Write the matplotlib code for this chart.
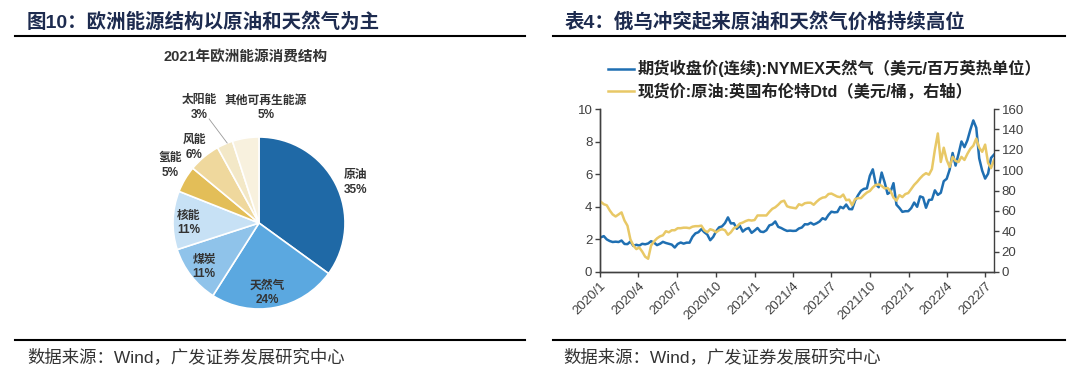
import matplotlib
matplotlib.use('Agg')
import matplotlib.pyplot as plt
import pandas as pd
from matplotlib.lines import Line2D

plt.rcParams['font.family'] = ['Liberation Sans', 'Noto Sans CJK SC', 'DejaVu Sans']

# ---------------- text ----------------
title_left = '图10：欧洲能源结构以原油和天然气为主'
title_right = '表4：俄乌冲突起来原油和天然气价格持续高位'
source_text = '数据来源：Wind，广发证券发展研究中心'
pie_title = '2021年欧洲能源消费结构'

# ---------------- pie data ----------------
pie_labels = ['原油', '天然气', '煤炭', '核能', '氢能', '风能', '太阳能', '其他可再生能源']
pie_values = [35, 24, 11, 11, 5, 6, 3, 5]
pie_colors = ['#1f69a6', '#5ba8e0', '#8fc3ea', '#c7e1f5', '#e3be58', '#efd89d', '#f3e8c7', '#f8f1de']

# ---------------- line data (weekly, Fridays from 2020-01-03) ----------------
series_start = '2020-01-03'
ng_name = '期货收盘价(连续):NYMEX天然气（美元/百万英热单位）'
brent_name = '现货价:原油:英国布伦特Dtd（美元/桶，右轴）'

ng_2020 = [2.13, 2.20, 2.00, 1.90, 1.84,
           1.86, 1.84, 1.93, 1.72,
           1.71, 1.87, 1.60, 1.67,
           1.62, 1.73, 1.70, 1.75,
           1.89, 1.80, 1.65, 1.73, 1.85,
           1.78, 1.73, 1.68, 1.50,
           1.72, 1.81, 1.74, 1.80, 1.80,
           2.16, 2.37, 2.44, 2.63,
           2.44, 2.30, 1.95, 2.15,
           2.50, 2.74, 2.80, 3.00, 3.35,
           2.98, 2.99, 2.65, 2.84,
           2.48, 2.63, 2.70, 2.40]
ng_2021 = [2.54, 2.70, 2.48, 2.45, 2.56,
           2.86, 2.92, 3.10, 2.77,
           2.70, 2.60, 2.52, 2.54,
           2.52, 2.53, 2.67, 2.73, 2.93,
           2.92, 3.02, 2.91, 2.99,
           3.10, 3.30, 3.22, 3.50,
           3.70, 3.66, 3.68, 4.00, 3.91,
           4.14, 3.86, 3.85, 4.37,
           4.71, 4.98, 5.10, 5.13,
           5.90, 6.30, 5.40, 5.20, 6.10,
           5.50, 4.79, 4.92, 5.45,
           4.13, 3.93, 3.69, 3.73, 3.73]
ng_2022 = [3.92, 4.26, 4.00, 4.64,
           4.57, 3.94, 4.42, 4.44,
           5.01, 4.73, 4.86, 5.57,
           5.72, 6.28, 7.30, 6.53, 7.24,
           8.01, 7.66, 8.08, 8.73,
           9.30, 8.85, 6.97, 6.22,
           5.73, 6.03, 7.00, 7.20]

brent_2020 = [68.9, 66.5, 65.5, 60.5, 56.5,
              54.5, 56.5, 58.5, 50.5,
              45.5, 32.0, 26.0, 22.5,
              24.0, 20.0, 15.0, 13.0,
              26.0, 30.0, 33.0, 35.0, 36.0,
              40.0, 39.0, 41.0, 41.0,
              43.0, 43.0, 43.5, 43.5, 43.0,
              44.5, 45.0, 45.0, 45.5,
              41.0, 39.0, 42.0, 41.0,
              39.0, 41.0, 42.0, 41.0, 36.5,
              39.0, 43.0, 44.5, 47.5,
              48.5, 50.0, 51.0, 50.5]
brent_2021 = [51.0, 55.5, 55.5, 55.5, 55.5,
              59.0, 62.0, 63.5, 66.0,
              69.0, 70.0, 64.5, 63.5,
              63.0, 62.5, 66.5, 65.5, 67.5,
              68.0, 68.0, 66.0, 69.0,
              71.5, 73.0, 73.5, 76.5,
              77.0, 75.5, 74.0, 73.5, 76.0,
              70.5, 71.0, 65.5, 71.5,
              72.5, 72.5, 75.5, 78.0,
              79.5, 83.0, 85.5, 86.0, 84.5,
              82.0, 82.5, 79.5, 73.0,
              70.0, 75.5, 73.5, 76.5, 77.5]
brent_2022 = [81.5, 85.5, 88.5, 92.0,
              95.0, 97.0, 95.5, 101.0,
              120.0, 136.0, 108.0, 122.0,
              110.0, 103.0, 113.0, 109.0, 108.0,
              113.0, 110.0, 116.0, 121.0,
              124.0, 131.0, 122.0, 118.0,
              125.0, 107.0, 102.0, 110.0]

ng_values = ng_2020 + ng_2021 + ng_2022
brent_values = brent_2020 + brent_2021 + brent_2022
dates = pd.date_range(series_start, periods=len(ng_values), freq='W-FRI')

x_ticks = pd.date_range('2020-01-01', '2022-07-01', freq='QS')
x_ticklabels = [f'{d.year}/{d.month}' for d in x_ticks]
left_ticks = [0, 2, 4, 6, 8, 10]
right_ticks = [0, 20, 40, 60, 80, 100, 120, 140, 160]

# ---------------- figure ----------------
W, H = 1080, 379
fig = plt.figure(figsize=(W / 100, H / 100), dpi=100)


def fx(px):
    return px / W


def fy(py):
    return 1 - py / H


title_color = '#1d2b4f'
fig.text(fx(27), fy(22), title_left, fontsize=14, fontweight='bold', color=title_color,
         ha='left', va='center')
fig.text(fx(565), fy(22), title_right, fontsize=14, fontweight='bold', color=title_color,
         ha='left', va='center')
for x0, x1 in [(15, 525), (553, 1065)]:
    for yy in (36, 340):
        fig.add_artist(Line2D([fx(x0), fx(x1)], [fy(yy), fy(yy)], color='black', lw=1.5,
                              transform=fig.transFigure))
fig.text(fx(27), fy(357), source_text, fontsize=12.5, color='#333333', ha='left', va='center')
fig.text(fx(563), fy(357), source_text, fontsize=12.5, color='#333333', ha='left', va='center')

# ---------------- pie ----------------
cx, cy, r = 259, 223, 86
half = 1.5 * r
axp = fig.add_axes([fx(cx - half), fy(cy + half), 2 * half / W, 2 * half / H])
axp.pie(pie_values, colors=pie_colors, startangle=90, counterclock=False, radius=1,
        wedgeprops=dict(edgecolor='white', linewidth=1.2))
axp.set_xlim(-1.5, 1.5)
axp.set_ylim(-1.5, 1.5)
axp.axis('off')
label_pos = {'原油': (1.12, 0.47), '天然气': (0.10, -0.81), '煤炭': (-0.64, -0.51),
             '核能': (-0.82, 0.0), '氢能': (-1.03, 0.67), '风能': (-0.75, 0.88),
             '太阳能': (-0.69, 1.34), '其他可再生能源': (0.08, 1.34)}
for lab, val in zip(pie_labels, pie_values):
    px_, py_ = label_pos[lab]
    axp.text(px_, py_, f'{lab}\n{val}%', ha='center', va='center', fontsize=8.5,
             fontweight='bold', color='#333333', linespacing=1.3)
axp.plot([-0.58, -0.37], [1.21, 0.93], color='#999999', lw=0.6)
fig.text(fx(246), fy(58), pie_title, fontsize=10.5, fontweight='bold', color='#333333',
         ha='center', va='center')

# ---------------- lines ----------------
blue = '#1f6fb2'
gold = '#e8c866'
ax = fig.add_axes([fx(600), fy(272), 394 / W, 163 / H])
ax.plot(dates, ng_values, color=blue, lw=1.8)
ax.set_ylim(0, 10)
ax.set_yticks(left_ticks)
ax.set_xlim(pd.Timestamp('2020-01-01'), pd.Timestamp('2022-07-22'))
ax.set_xticks(x_ticks)
ax.set_xticklabels(x_ticklabels, rotation=45, ha='right', va='top', rotation_mode='anchor')
ax2 = ax.twinx()
ax2.plot(dates, brent_values, color=gold, lw=1.8)
ax2.set_ylim(0, 160)
ax2.set_yticks(right_ticks)
for a in (ax, ax2):
    a.spines['top'].set_visible(False)
    for s in ('left', 'right', 'bottom'):
        a.spines[s].set_color('#404040')
        a.spines[s].set_linewidth(1.0)
    a.tick_params(axis='both', direction='out', length=3.5, width=1.0, color='#404040',
                  labelsize=9.5, labelcolor='#404040', pad=2)
ax.spines['right'].set_visible(False)

handles = [Line2D([], [], color=blue, lw=1.8), Line2D([], [], color=gold, lw=1.8)]
fig.legend(handles, [ng_name, brent_name], loc='upper left',
           bbox_to_anchor=(fx(608), fy(60)), frameon=False,
           prop=dict(size=11.7, weight='bold'), handlelength=1.6, handletextpad=0.2,
           labelspacing=0.35, borderaxespad=0, borderpad=0, labelcolor='#222222')

fig.savefig('out.png', dpi=100)
